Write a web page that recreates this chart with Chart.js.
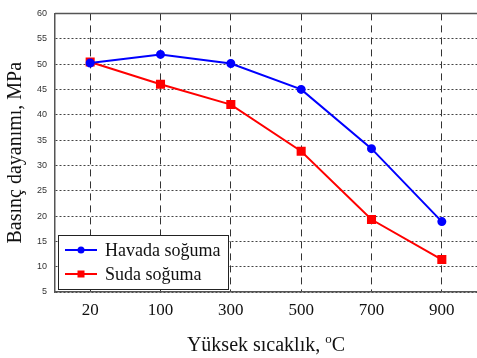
<!DOCTYPE html>
<html>
<head>
<meta charset="utf-8">
<script src="https://cdn.jsdelivr.net/npm/chart.js@4/dist/chart.umd.min.js"></script>
<style>
  html, body { margin: 0; padding: 0; background: #fff; }
  #wrap { width: 477px; height: 358px; position: relative; }
</style>
</head>
<body>
<div id="wrap"><canvas id="chart"></canvas></div>
<script>
// sicaklik kategorileri ve basinc dayanimi degerleri (MPa)
const sicakliklar = ['20', '100', '300', '500', '700', '900'];
const havadaSoguma = [50.2, 51.9, 50.1, 45.0, 33.3, 18.9];
const sudaSoguma = [50.4, 46.0, 42.0, 32.8, 19.3, 11.4];
const yMin = 5, yMax = 60, yStep = 5;

const serif = '"Liberation Serif", "Times New Roman", serif';
const sans = '"Liberation Sans", Arial, sans-serif';

// eksen basliklari, ust cizgi ve grafik icindeki lejant
const decorPlugin = {
    id: 'decor',
    afterDraw(chart) {
        const { ctx, chartArea: a } = chart;
        ctx.save();

        // ust cerceve cizgisi
        ctx.strokeStyle = '#555';
        ctx.lineWidth = 1.5;
        ctx.beginPath();
        ctx.moveTo(a.left, a.top);
        ctx.lineTo(a.right, a.top);
        ctx.stroke();

        // lejant kutusu
        const bx = a.left + 3, by = a.bottom - 57, bw = 170, bh = 54;
        ctx.fillStyle = '#fff';
        ctx.fillRect(bx, by, bw, bh);
        ctx.strokeStyle = '#222';
        ctx.lineWidth = 1;
        ctx.strokeRect(bx + 0.5, by + 0.5, bw, bh);

        chart.data.datasets.forEach((ds, i) => {
            const ly = by + 15 + i * 24;
            ctx.strokeStyle = ds.borderColor;
            ctx.lineWidth = 2;
            ctx.beginPath();
            ctx.moveTo(bx + 7, ly);
            ctx.lineTo(bx + 39, ly);
            ctx.stroke();
            ctx.fillStyle = ds.backgroundColor;
            if (ds.pointStyle === 'rect') {
                ctx.fillRect(bx + 23 - 3.5, ly - 3.5, 7, 7);
            } else {
                ctx.beginPath();
                ctx.arc(bx + 23, ly, 3.5, 0, Math.PI * 2);
                ctx.fill();
            }
            ctx.fillStyle = '#111';
            ctx.font = '18px ' + serif;
            ctx.textBaseline = 'middle';
            ctx.textAlign = 'left';
            ctx.fillText(ds.label, bx + 47, ly + 1);
        });

        // x ekseni basligi (o ust simge)
        ctx.fillStyle = '#111';
        ctx.textBaseline = 'alphabetic';
        ctx.font = '20px ' + serif;
        const t1 = 'Yüksek sıcaklık, ';
        const w1 = ctx.measureText(t1).width;
        ctx.font = '13px ' + serif;
        const wo = ctx.measureText('o').width;
        ctx.font = '20px ' + serif;
        const w2 = ctx.measureText('C').width;
        let x = (a.left + a.right) / 2 - (w1 + wo + w2) / 2;
        const y = 351;
        ctx.fillText(t1, x, y);
        x += w1;
        ctx.font = '13px ' + serif;
        ctx.fillText('o', x, y - 8);
        x += wo;
        ctx.font = '20px ' + serif;
        ctx.fillText('C', x, y);

        // y ekseni basligi
        ctx.save();
        ctx.translate(16, (a.top + a.bottom) / 2);
        ctx.rotate(-Math.PI / 2);
        ctx.textAlign = 'center';
        ctx.textBaseline = 'middle';
        ctx.font = '20px ' + serif;
        ctx.fillText('Basınç dayanımı, MPa', 0, 0);
        ctx.restore();

        ctx.restore();
    }
};

new Chart(document.getElementById('chart'), {
    type: 'line',
    data: {
        labels: sicakliklar,
        datasets: [{
            label: 'Havada soğuma',
            data: havadaSoguma,
            borderColor: '#0000ff',
            backgroundColor: '#0000ff',
            borderWidth: 2,
            pointStyle: 'circle',
            pointRadius: 3.5,
            pointHoverRadius: 3.5,
            tension: 0
        }, {
            label: 'Suda soğuma',
            data: sudaSoguma,
            borderColor: '#ff0000',
            backgroundColor: '#ff0000',
            borderWidth: 2,
            pointStyle: 'rect',
            pointRadius: 5,
            pointHoverRadius: 5,
            tension: 0
        }]
    },
    options: {
        responsive: true,
        maintainAspectRatio: false,
        animation: false,
        layout: { autoPadding: false, padding: { top: 10, left: 0, right: -3, bottom: 0 } },
        plugins: {
            legend: { display: false },
            tooltip: { enabled: false }
        },
        scales: {
            x: {
                offset: true,
                afterFit: (scale) => {
                    scale.height = 66;
                    scale.paddingLeft = 0;
                    scale.paddingRight = 0;
                },
                grid: {
                    offset: false,
                    color: '#333',
                    lineWidth: 1,
                    drawTicks: false
                },
                border: { display: true, color: '#555', width: 1.5, dash: [7, 5] },
                ticks: {
                    padding: 8,
                    color: '#111',
                    font: { family: serif, size: 17 }
                }
            },
            y: {
                min: yMin,
                max: yMax,
                afterFit: (scale) => { scale.width = 55; },
                grid: {
                    color: '#444',
                    lineWidth: 1,
                    drawTicks: false
                },
                border: { display: true, color: '#555', width: 1.5, dash: [2, 2] },
                ticks: {
                    stepSize: yStep,
                    padding: 8,
                    color: '#333',
                    font: { family: sans, size: 9 }
                }
            }
        }
    },
    plugins: [decorPlugin]
});
</script>
</body>
</html>
